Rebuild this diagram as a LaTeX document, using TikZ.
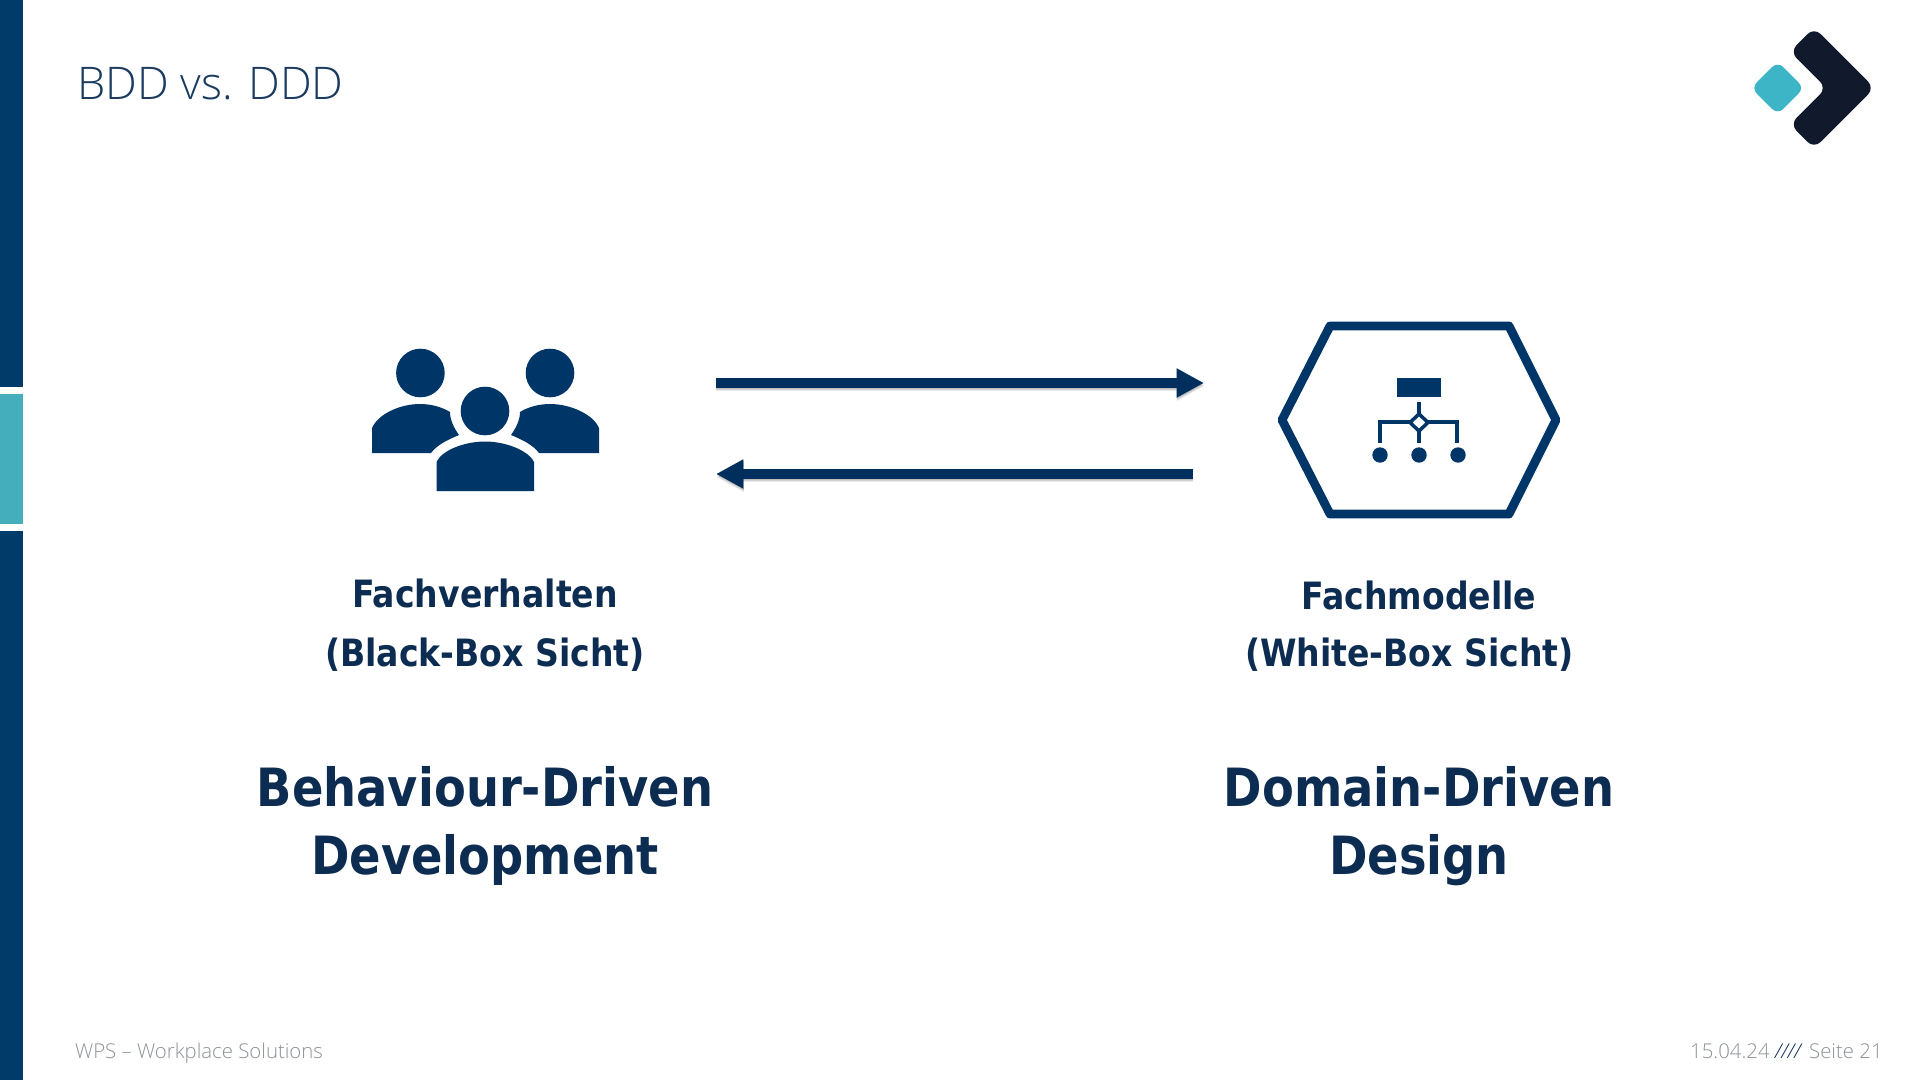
\documentclass[tikz,border=0pt]{standalone}
\usepackage{fontspec}
\usetikzlibrary{arrows.meta}
\setmainfont{Open Sans}[UprightFont=* Light]
\newfontfamily\boldf[FakeStretch=0.88]{DejaVu Sans Bold}
\definecolor{navy}{HTML}{003568}
\definecolor{arrowc}{HTML}{002F5E}
\definecolor{bar}{HTML}{003B69}
\definecolor{tealbar}{HTML}{45AEBD}
\definecolor{logoteal}{HTML}{3DB5C6}
\definecolor{logodark}{HTML}{111A2C}
\definecolor{ink}{HTML}{0C2C52}
\definecolor{foot}{HTML}{8E9297}
\definecolor{titlec}{HTML}{1A3A5F}
\tikzset{
  x=0.05cm,y=-0.05cm,
  icon/.style={fill=navy,draw=none},
  flow/.style={draw=arrowc,line width=14pt,-{Triangle[length=39pt,width=39pt]}},
  flowshade/.style={draw=black,opacity=0.09,line width=14pt,-{Triangle[length=39pt,width=39pt]}},
  lab/.style={anchor=base,inner sep=0pt,text=ink,font=\boldf\fontsize{53.5}{53.5}\selectfont},
  big/.style={anchor=base,inner sep=0pt,text=ink,font=\boldf\fontsize{75}{75}\selectfont},
  foottext/.style={anchor=base west,inner sep=0pt,text=foot,font=\fontsize{29}{29}\selectfont},
}
\begin{document}
\begin{tikzpicture}
\useasboundingbox (0,0) rectangle (1920,1080);
\fill[white] (0,0) rectangle (1920,1080);
% side bar
\fill[bar] (0,0) rectangle (23,387);
\fill[tealbar] (0,394) rectangle (23,524);
\fill[bar] (0,531) rectangle (23,1080);
% title
\node[anchor=base west,inner sep=0pt,text=titlec,font=\fontsize{64}{64}\selectfont] (title) at (77,99) {BDD vs. DDD};
% logo
\fill[logoteal,rounded corners=11pt] (1777.7,61.5) -- (1804.2,88) -- (1777.7,114.5) -- (1751.2,88) -- cycle;
\fill[logodark,rounded corners=13pt] (1814,27.5) -- (1874.5,88) -- (1814,148.5) -- (1790,124.3) -- (1826.5,88) -- (1790,51.7) -- cycle;
% people
\fill[icon] (420.4,373) circle (24.3);
\fill[icon] (550,373) circle (24.3);
\fill[icon] (485,411) circle (24.3);
\fill[icon] (372,453) -- (372,428) .. controls (378,414) and (400,404) .. (420,404)
  .. controls (431,404) and (442,407) .. (450,412)
  .. controls (450,420) and (454,428) .. (459,435)
  .. controls (447,440) and (437,445) .. (431,453) -- cycle;
\fill[icon] (599,453) -- (599,428) .. controls (593,414) and (570,404) .. (550,404)
  .. controls (539,404) and (528,407) .. (520,412)
  .. controls (520,420) and (516,428) .. (511,435)
  .. controls (523,440) and (533,445) .. (539,453) -- cycle;
\fill[icon] (436.5,491) -- (436.5,462) .. controls (442,450) and (465,441.5) .. (485,441.5)
  .. controls (505,441.5) and (528,450) .. (534,462) -- (534,491) -- cycle;
% arrows
\coordinate (a1) at (716,383);
\coordinate (b1) at (1204,383);
\coordinate (a2) at (1192.5,474);
\coordinate (b2) at (716,474);
\foreach \d in {1.5pt,3pt,4.5pt}{
\draw[flowshade] ([shift={(0.5pt,-\d)}]a1) -- ([shift={(0.5pt,-\d)}]b1);
\draw[flowshade] ([shift={(0.5pt,-\d)}]a2) -- ([shift={(0.5pt,-\d)}]b2);
}
\draw[flow] (a1) -- (b1);
\draw[flow] (a2) -- (b2);
% hexagon
\draw[draw=navy,line width=12.5pt,line join=round] (1330,326) -- (1509,326) -- (1556,420) -- (1509,514) -- (1330,514) -- (1282,420) -- cycle;
\fill[icon] (1396.7,378.3) rectangle (1441,396.7);
\draw[navy,line width=7pt] (1419,402) -- (1419,443);
\draw[navy,line width=7pt] (1380,443) -- (1380,422) -- (1457,422) -- (1457,443);
\draw[navy,line width=5pt,fill=white] (1419,414) -- (1428,422.5) -- (1419,431) -- (1410,422.5) -- cycle;
\fill[icon] (1380,455) circle (7.7);
\fill[icon] (1419,455) circle (7.7);
\fill[icon] (1458,455) circle (7.7);
% labels
\node[lab] (l1) at (485,607) {Fachverhalten};
\node[lab] (l2) at (485,666) {(Black-Box Sicht)};
\node[lab] (r1) at (1419,609) {Fachmodelle};
\node[lab] (r2) at (1409.5,666) {(White-Box Sicht)};
\node[big] (bdd1) at (485,806) {Behaviour-Driven};
\node[big] (bdd2) at (485,874) {Development};
\node[big] (ddd1) at (1419,806) {Domain-Driven};
\node[big] (ddd2) at (1419,874) {Design};
% footer
\node[foottext] (f1) at (75,1058) {WPS – Workplace Solutions};
\node[foottext] (f2) at (1690,1058) {15.04.24};
\node[foottext,text=ink] (f3) at (1775,1058) {\itshape ////};
\node[foottext] (f4) at (1809,1058) {Seite 21};
\end{tikzpicture}
\end{document}
